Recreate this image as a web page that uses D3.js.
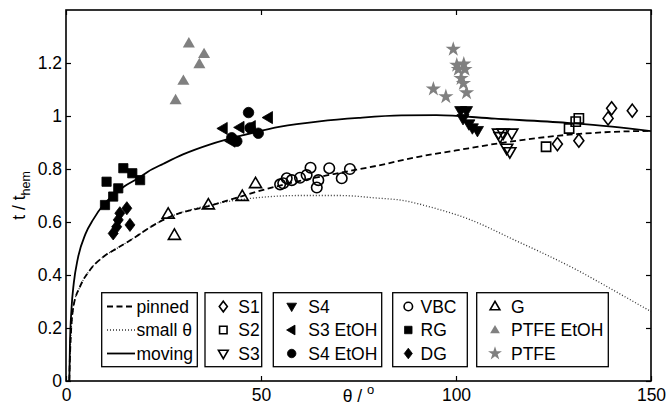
<!DOCTYPE html>
<html><head><meta charset="utf-8">
<script src="https://cdn.jsdelivr.net/npm/d3@7"></script>
<style>body{margin:0;background:#fff}svg{display:block}text{font-family:"Liberation Sans",Arial,sans-serif}</style>
</head><body><svg id="c" width="667" height="407"></svg>
<script>
// ---------- data ----------
const xTicks = [0, 50, 100, 150];
const yTicks = [0, 0.2, 0.4, 0.6, 0.8, 1, 1.2];
const yTickLabels = ["0", "0.2", "0.4", "0.6", "0.8", "1", "1.2"];

const movingCurve = [[0.85,0],[1.0,0.13],[1.4,0.27],[2,0.37],[3,0.46],[5,0.555],[7,0.61],[9.6,0.665],[12,0.7],[15,0.735],[18.5,0.765],[21,0.79],[25,0.82],[30,0.855],[37,0.893],[45.5,0.928],[55,0.96],[65,0.98],[75,0.993],[86,1.002],[95,1.003],[110,0.99],[128.5,0.974],[140,0.96],[150,0.943]];
const pinnedCurve = [[0.85,0],[1.03,0.1],[1.9,0.28],[3.6,0.356],[6.15,0.419],[9.6,0.469],[13,0.5],[18,0.545],[21,0.575],[26.7,0.62],[37,0.662],[45,0.697],[52,0.727],[60,0.755],[70,0.785],[80,0.813],[90,0.845],[100,0.87],[111,0.897],[128,0.928],[140,0.94],[150,0.944]];
const smallThetaCurve = [[0.85,0],[1.03,0.1],[1.9,0.28],[3.6,0.356],[6.15,0.419],[9.6,0.469],[13,0.5],[18,0.545],[21,0.575],[26.7,0.62],[33,0.65],[40,0.673],[45,0.685],[50,0.693],[60,0.7],[70,0.7],[80,0.69],[85.6,0.683],[95,0.65],[102.7,0.614],[115,0.532],[131,0.419],[140.3,0.343],[150,0.262]];

const S1 = [[126,0.894],[131.5,0.907],[139,0.991],[139.9,1.029],[145.2,1.02]];
const S2 = [[123.1,0.884],[129,0.953],[130.7,0.979],[131.5,0.991]];
const S3 = [[110.9,0.935],[112.1,0.935],[114.3,0.935],[111.3,0.922],[113,0.878],[113.8,0.865]];
const S4 = [[101.2,1.02],[102.7,1.02],[101.8,0.99],[103.3,0.97],[104.2,0.955],[105.5,0.945]];
const S3EtOH = [[40.3,0.953],[44.6,0.957],[47.5,0.96],[51.9,0.994],[42.3,0.905]];
const S4EtOH = [[46.8,1.013],[42.5,0.918],[43.8,0.905],[47.2,0.955],[49.3,0.935]];
const VBC = [[54.9,0.742],[55.7,0.746],[56.6,0.765],[57.9,0.758],[60,0.767],[61.7,0.777],[62.7,0.805],[64.7,0.758],[64.3,0.73],[67.5,0.803],[70.7,0.765],[72.8,0.8]];
const RG = [[14.7,0.803],[17,0.784],[19,0.758],[10.4,0.752],[13.4,0.727],[12.1,0.696],[10,0.664]];
const DG = [[15.6,0.652],[13.8,0.633],[13.4,0.608],[16.4,0.589],[13,0.582],[12.1,0.557]];
const G = [[26.2,0.63],[27.8,0.55],[36.5,0.665],[45.2,0.697],[48.6,0.745]];
const PTFEEtOH = [[31.5,1.274],[35.4,1.234],[34.2,1.196],[30.1,1.133],[28.1,1.06]];
const PTFE = [[99.3,1.252],[100.2,1.192],[102,1.196],[100.6,1.176],[102.3,1.176],[101.3,1.142],[101.9,1.123],[102.7,1.088],[94.2,1.102],[97.4,1.073]];

const lineLegend = ["pinned", "small θ", "moving"];
const markerLegends = [
  [["S1","diamond"],["S2","square"],["S3","tridown"]],
  [["S4","tridownF"],["S3 EtOH","trileftF"],["S4 EtOH","circleF"]],
  [["VBC","circle"],["RG","squareF"],["DG","diamondF"]],
  [["G","triup"],["PTFE EtOH","triupG"],["PTFE","starG"]]
];

// ---------- layout ----------
const W = 667, H = 407;
const m = {l: 66, r: 16, t: 10, b: 26};
const svg = d3.select("#c");
const x = d3.scaleLinear().domain([0,150]).range([m.l, W - m.r]);
const y = d3.scaleLinear().domain([0,1.4]).range([H - m.b, m.t]);
const FS = 17.5;

// ---------- marker shapes ----------
function shape(type, s) {
  const base = type.replace(/F$|G$/, "");
  const k = s / 2;
  switch (base) {
    case "diamond": return `M0,${-k*1.25}L${k*0.95},0L0,${k*1.25}L${-k*0.95},0Z`;
    case "square": return `M${-k*0.88},${-k*0.88}H${k*0.88}V${k*0.88}H${-k*0.88}Z`;
    case "tridown": return `M${-k*1.15},${-k*0.78}H${k*1.15}L0,${k*1.2}Z`;
    case "triup": return `M${-k*1.15},${k*0.78}H${k*1.15}L0,${-k*1.2}Z`;
    case "trileft": return `M${k*0.78},${-k*1.15}V${k*1.15}L${-k*1.2},0Z`;
    case "circle": return d3.symbol(d3.symbolCircle, Math.PI * k * k)();
    case "star": return d3.symbol(d3.symbolStar, k * k * 2.4)();
  }
}
function style(sel, type) {
  if (type.endsWith("G")) sel.attr("fill", "#808080").attr("stroke", "none");
  else if (type.endsWith("F")) sel.attr("fill", "#000").attr("stroke", "#000").attr("stroke-width", 0.8);
  else sel.attr("fill", "none").attr("stroke", "#000").attr("stroke-width", 1.6);
}

// ---------- curves ----------
const clipId = "plotclip";
svg.append("clipPath").attr("id", clipId).append("rect")
  .attr("x", m.l).attr("y", m.t).attr("width", W - m.l - m.r).attr("height", H - m.t - m.b);
const line = d3.line().x(d => x(d[0])).y(d => y(d[1])).curve(d3.curveMonotoneX);
const cg = svg.append("g").attr("clip-path", `url(#${clipId})`);
cg.append("path").attr("d", line(smallThetaCurve)).attr("fill", "none").attr("stroke", "#333").attr("stroke-width", 1.3).attr("stroke-dasharray", "1,2");
cg.append("path").attr("d", line(pinnedCurve)).attr("fill", "none").attr("stroke", "#000").attr("stroke-width", 1.8).attr("stroke-dasharray", "6,3.5");
cg.append("path").attr("d", line(movingCurve)).attr("fill", "none").attr("stroke", "#000").attr("stroke-width", 1.8);

// ---------- points ----------
const series = [
  [S1,"diamond"],[S2,"square"],[S3,"tridown"],[G,"triup"],[VBC,"circle"],
  [PTFEEtOH,"triupG"],[PTFE,"starG"],
  [S4,"tridownF"],[S3EtOH,"trileftF"],[S4EtOH,"circleF"],[RG,"squareF"],[DG,"diamondF"]
];
const MS = 10.5;
series.forEach(([data, type]) => {
  const g = svg.append("g");
  g.selectAll("path").data(data).join("path")
    .attr("transform", d => `translate(${x(d[0])},${y(d[1])})`)
    .attr("d", shape(type, type.startsWith("star") ? 11 : MS))
    .call(style, type);
});

// ---------- axes ----------
const fmt = (v) => yTickLabels[yTicks.indexOf(v)];
const axB = svg.append("g").attr("transform", `translate(0,${H - m.b})`)
  .call(d3.axisBottom(x).tickValues(xTicks).tickSize(-5).tickPadding(8).tickFormat(d3.format("d")));
const axL = svg.append("g").attr("transform", `translate(${m.l},0)`)
  .call(d3.axisLeft(y).tickValues(yTicks).tickSize(-5).tickPadding(4).tickFormat(fmt));
const axT = svg.append("g").attr("transform", `translate(0,${m.t})`)
  .call(d3.axisTop(x).tickValues(xTicks).tickSize(-5).tickFormat(""));
const axR = svg.append("g").attr("transform", `translate(${W - m.r},0)`)
  .call(d3.axisRight(y).tickValues(yTicks).tickSize(-5).tickFormat(""));
[axB, axL, axT, axR].forEach(a => {
  a.select(".domain").remove();
  a.selectAll("line").attr("stroke", "#000").attr("stroke-width", 1.2);
  a.selectAll("text").attr("font-size", FS).attr("fill", "#000").attr("font-family", '"Liberation Sans",Arial,sans-serif');
});
svg.append("rect").attr("x", m.l).attr("y", m.t).attr("width", W - m.l - m.r).attr("height", H - m.t - m.b)
  .attr("fill", "none").attr("stroke", "#000").attr("stroke-width", 1.6);

// axis labels
const xl = svg.append("text").attr("x", (m.l + W - m.r) / 2).attr("y", 402).attr("text-anchor", "middle").attr("font-size", FS);
xl.append("tspan").text("θ / ");
xl.append("tspan").attr("font-size", 13).attr("dy", -8).text("o");
const yl = svg.append("text").attr("transform", `translate(25,${(m.t + H - m.b) / 2}) rotate(-90)`).attr("text-anchor", "middle").attr("font-size", FS);
yl.append("tspan").text("t / t");
yl.append("tspan").attr("font-size", 12.5).attr("dy", 5).text("hem");

// ---------- legends ----------
const rowY = [306.5, 330, 353.5];
const boxTop = 292.7, boxH = 74;
// line legend
const lb = svg.append("g");
lb.append("rect").attr("x", 101.7).attr("y", boxTop).attr("width", 95.6).attr("height", boxH).attr("fill", "#fff").attr("stroke", "#000").attr("stroke-width", 1.3);
const lstyles = [["#000", 1.8, "6,3.5"], ["#333", 1.3, "1,2"], ["#000", 1.8, null]];
lineLegend.forEach((lab, i) => {
  const p = lb.append("line").attr("x1", 107).attr("x2", 135).attr("y1", rowY[i]).attr("y2", rowY[i])
    .attr("stroke", lstyles[i][0]).attr("stroke-width", lstyles[i][1]);
  if (lstyles[i][2]) p.attr("stroke-dasharray", lstyles[i][2]);
  lb.append("text").attr("x", 136.5).attr("y", rowY[i] + 6).attr("font-size", FS).text(lab);
});
const boxes = [
  {x0: 205, x1: 261.7, mx: 223.3, tx: 238.3},
  {x0: 273.3, x1: 381.7, mx: 291.7, tx: 308.3},
  {x0: 392.7, x1: 467.3, mx: 408.3, tx: 420.5},
  {x0: 476.7, x1: 608.3, mx: 495, tx: 511}
];
markerLegends.forEach((entries, bi) => {
  const b = boxes[bi];
  const g = svg.append("g");
  g.append("rect").attr("x", b.x0).attr("y", boxTop).attr("width", b.x1 - b.x0).attr("height", boxH).attr("fill", "#fff").attr("stroke", "#000").attr("stroke-width", 1.3);
  entries.forEach(([lab, type], i) => {
    g.append("path").attr("transform", `translate(${b.mx},${rowY[i]})`)
      .attr("d", shape(type, type.startsWith("star") ? 10 : 8.5)).call(style, type);
    g.append("text").attr("x", b.tx).attr("y", rowY[i] + 6).attr("font-size", FS).text(lab);
  });
});
</script></body></html>
